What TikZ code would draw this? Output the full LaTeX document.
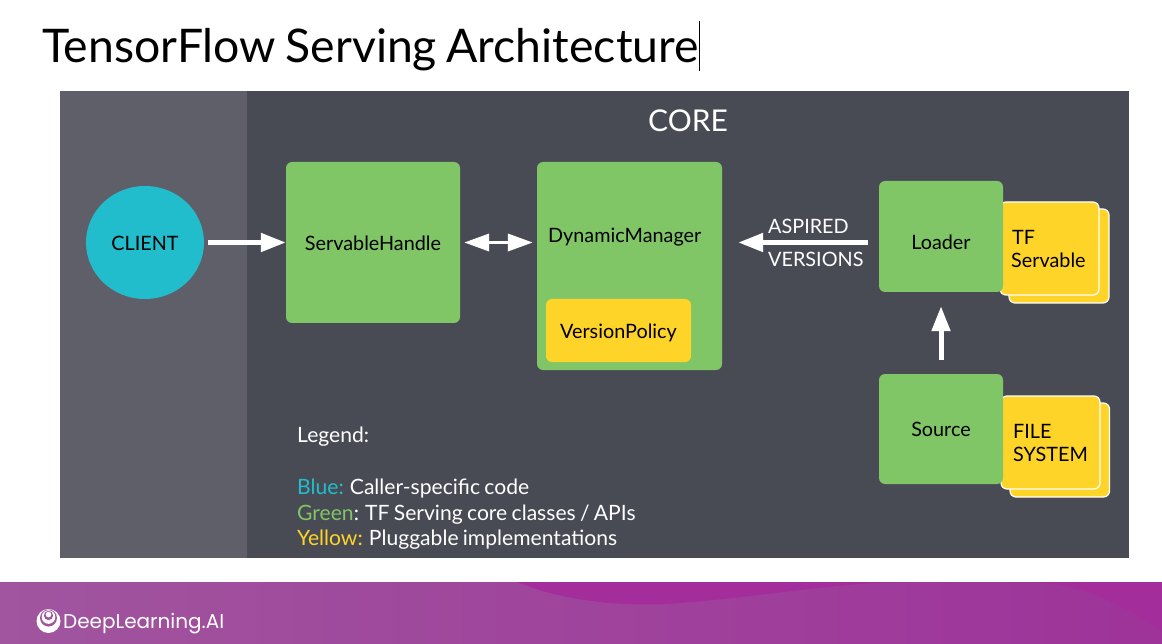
\documentclass[tikz,border=0pt]{standalone}
\usepackage{fontspec}
\setmainfont[WordSpace=0.8]{Lato}
\newfontfamily\brandfont{Poppins}
\usetikzlibrary{arrows.meta,shapes.geometric}
\definecolor{panel}{HTML}{494B54}
\definecolor{side}{HTML}{5E5F69}
\definecolor{gbox}{HTML}{80C566}
\definecolor{ybox}{HTML}{FFD428}
\definecolor{bcirc}{HTML}{22BDCD}
\definecolor{footL}{HTML}{A0559E}
\definecolor{footR}{HTML}{9E339A}
\definecolor{wave}{HTML}{A32E9B}
\tikzset{
  x=1pt,y=-1pt,
  lab/.style={font=\fontsize{19.8}{23}\selectfont},
  greenbox/.style={fill=gbox,rounded corners=6pt,inner sep=0pt,lab,text=black},
  yellowback/.style={fill=ybox,draw=white,line width=1.2pt,rounded corners=6pt},
  txt/.style={inner sep=0pt,anchor=base west,lab},
  ctxt/.style={inner sep=0pt,anchor=base,lab},
  wtxt/.style={txt,text=white},
  legend/.style={inner sep=0pt,anchor=base west,font=\fontsize{21.1}{25}\selectfont,text=white},
  flow/.style={white,line width=5pt,-{Triangle[length=25pt,width=18pt]}},
}
\begin{document}
\begin{tikzpicture}
\useasboundingbox (0,0) rectangle (1162,644);
\fill[white] (0,0) rectangle (1162,644);
% title
\node[inner sep=0pt,anchor=base west,font=\fontsize{46.35}{56}\selectfont] (title) at (42,63) {TensorFlow Serving Architecture};
\draw[black,line width=1pt] (699.5,21) -- (699.5,71);
% panels
\fill[panel] (60,91) rectangle (1129,558);
\fill[side] (60,91) rectangle (247,558);
\node[inner sep=0pt,anchor=base,font=\fontsize{30}{36}\selectfont,text=white] (core) at (688,132) {CORE};
% footer
\shade[left color=footL,right color=footR] (0,582) rectangle (1162,644);
\fill[wave] (517,582) .. controls (560,600) and (620,608) .. (680,603) .. controls (760,597) and (840,582) .. (910,582) -- cycle;
\fill[wave] (1030,582) .. controls (1090,584) and (1130,610) .. (1162,632) -- (1162,582) -- cycle;
% footer logo
\fill[white] (48.5,621) circle (12pt);
\fill[footL] (48.5,618) circle (8.5pt);
\fill[white] (48.5,617) circle (6.8pt);
\fill[footL] (48.5,615.5) circle (4.6pt);
\fill[white] (48.5,614.6) circle (2.8pt);
\node[inner sep=0pt,anchor=base west,font=\brandfont\fontsize{20}{26}\selectfont,text=white] (brand) at (63,628.5) {DeepLearning.AI};
% client
\node[ellipse,fill=bcirc,minimum width=118pt,minimum height=113pt,inner sep=0pt,lab] (client) at (145,242.5) {};
\node[ctxt] (clientlabel) at (145,251) {CLIENT};
% green boxes
\node[greenbox,minimum width=174pt,minimum height=161pt] (handle) at (373,242.5) {};
\node[ctxt] (handlelabel) at (373,251) {ServableHandle};
\node[greenbox,minimum width=185pt,minimum height=208pt] (manager) at (629.5,266) {};
\node[txt] (managerlabel) at (548,243) {DynamicManager};
\node[fill=ybox,rounded corners=6pt,minimum width=145pt,minimum height=63pt,inner sep=0pt] (policy) at (618.5,330.5) {};
\node[ctxt] (policylabel) at (618.5,338) {VersionPolicy};
% yellow stacks
\draw[yellowback] (1009,209) rectangle (1109,303);
\draw[yellowback] (1000,202) rectangle (1099,295);
\draw[yellowback] (1010,403) rectangle (1109.5,497);
\draw[yellowback] (1001,396) rectangle (1100,489);
\node[greenbox,minimum width=124pt,minimum height=111pt] (loader) at (941,236.5) {};
\node[ctxt] (loaderlabel) at (941,250) {Loader};
\node[greenbox,minimum width=124pt,minimum height=110pt] (source) at (941,429) {};
\node[ctxt] (sourcelabel) at (941,436) {Source};
\node[txt] (tf1) at (1012,245) {TF};
\node[txt] (tf2) at (1011,268) {Servable};
\node[txt] (fs1) at (1013,438) {FILE};
\node[txt] (fs2) at (1013,461) {SYSTEM};
% connectors
\draw[flow,shorten <=4pt] (client.east) -- (handle.west);
\draw[white,line width=3.5pt,{Triangle[length=25pt,width=17pt]}-{Triangle[length=25pt,width=17pt]},shorten <=4pt,shorten >=4pt] (handle.east) -- (manager.west |- handle);
\draw[flow,shorten <=11pt,shorten >=16pt] (loader.west |- client) -- (manager.east |- client);
\draw[flow,shorten <=14pt,shorten >=14pt] (source.north) -- (loader.south);
\node[wtxt] (asp) at (768,234) {ASPIRED};
\node[wtxt] (ver) at (768,267) {VERSIONS};
% legend
\node[legend] (lg0) at (297,442) {Legend:};
\node[legend] (lg1) at (297,494) {\textcolor{bcirc}{Blue:} Caller-specific code};
\node[legend] (lg2) at (297,520) {\textcolor{gbox}{Green}: TF Serving core classes / APIs};
\node[legend] (lg3) at (297,545) {\textcolor{ybox}{Yellow:} Pluggable implementations};
\end{tikzpicture}
\end{document}
